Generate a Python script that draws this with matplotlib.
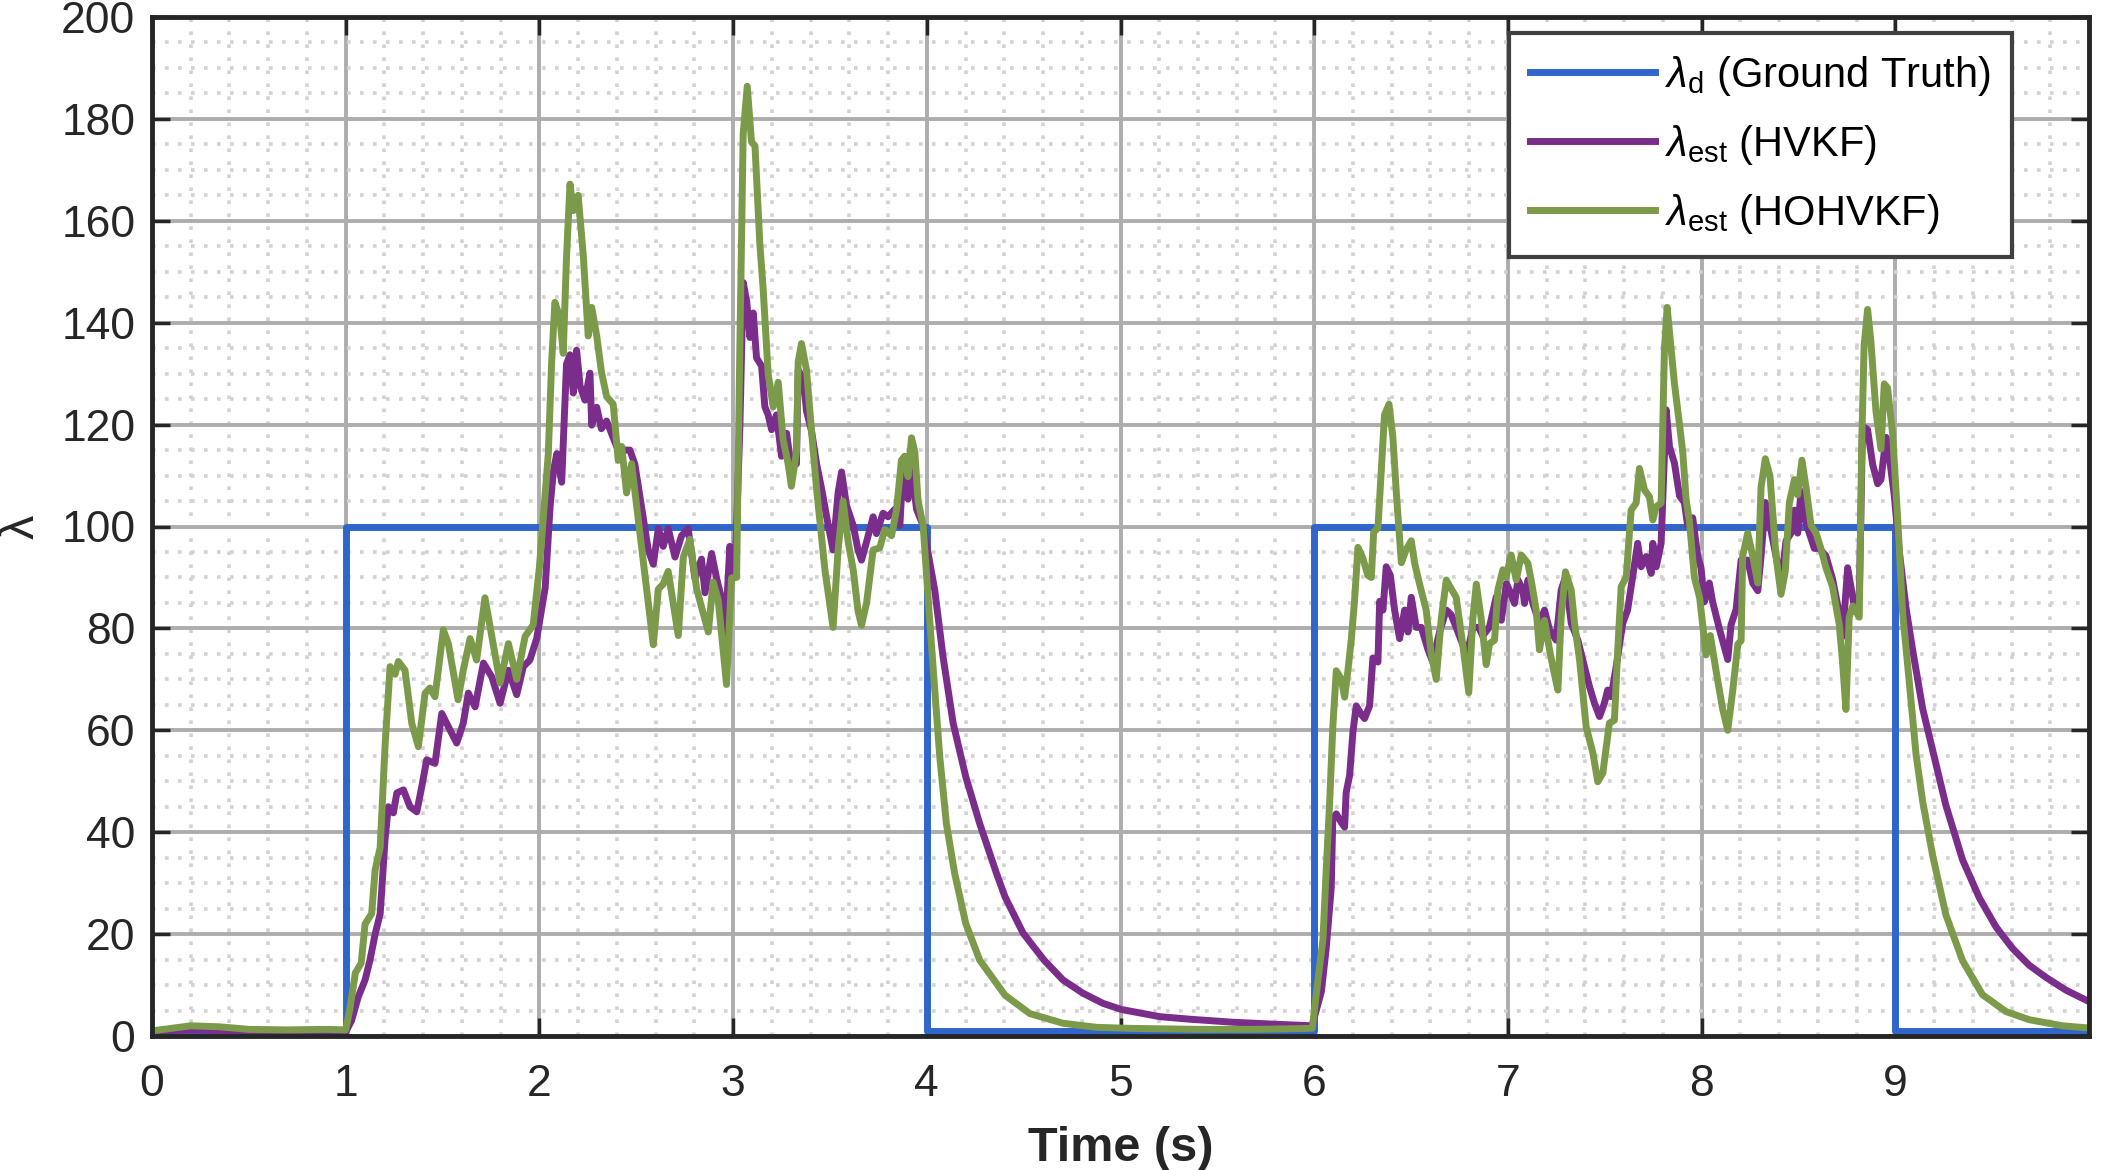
import matplotlib
matplotlib.use('Agg')
import matplotlib.pyplot as plt
from matplotlib.ticker import MultipleLocator

plt.rcParams['font.family'] = ['Liberation Sans', 'DejaVu Sans']
plt.rcParams['mathtext.fontset'] = 'custom'
plt.rcParams['mathtext.rm'] = 'Liberation Sans'
plt.rcParams['mathtext.it'] = 'Liberation Sans:italic'

# ground truth (step)
t_gt = [0, 1, 4, 6, 9, 10]
lam_gt = [1, 100, 1, 100, 1, 1]

# HVKF estimate
t_hvkf = [0.0, 0.2, 0.5, 0.8, 1.0, 1.03, 1.065, 1.1, 1.126, 1.152, 1.178, 1.203, 1.22, 1.246, 1.264,
          1.298, 1.332, 1.367, 1.393, 1.418, 1.461, 1.496, 1.53, 1.573, 1.607, 1.633, 1.668, 1.711,
          1.754, 1.797, 1.84, 1.883, 1.917, 1.951, 1.986, 2.03, 2.055, 2.072, 2.09, 2.115, 2.14, 2.158,
          2.175, 2.192, 2.21, 2.235, 2.261, 2.27, 2.296, 2.32, 2.347, 2.399, 2.433, 2.467, 2.493, 2.536,
          2.562, 2.588, 2.614, 2.639, 2.665, 2.7, 2.734, 2.768, 2.803, 2.837, 2.855, 2.889, 2.915, 2.941,
          2.958, 2.983, 3.01, 3.035, 3.052, 3.07, 3.087, 3.104, 3.121, 3.147, 3.164, 3.181, 3.199, 3.224,
          3.25, 3.276, 3.301, 3.327, 3.336, 3.362, 3.379, 3.405, 3.431, 3.457, 3.483, 3.516, 3.542, 3.56,
          3.585, 3.62, 3.645, 3.663, 3.689, 3.723, 3.74, 3.774, 3.8, 3.835, 3.861, 3.878, 3.903, 3.921,
          3.947, 3.981, 4.041, 4.084, 4.136, 4.201, 4.273, 4.36, 4.404, 4.497, 4.605, 4.703, 4.806,
          4.91, 5.005, 5.202, 5.357, 5.58, 5.804, 5.99, 6.0, 6.037, 6.062, 6.088, 6.096, 6.114, 6.14,
          6.157, 6.165, 6.183, 6.2, 6.217, 6.243, 6.26, 6.286, 6.303, 6.329, 6.338, 6.355, 6.372, 6.393,
          6.415, 6.441, 6.467, 6.484, 6.501, 6.527, 6.553, 6.587, 6.612, 6.647, 6.682, 6.707, 6.733,
          6.767, 6.79, 6.819, 6.85, 6.87, 6.905, 6.94, 6.966, 6.992, 7.008, 7.034, 7.052, 7.077, 7.086,
          7.103, 7.129, 7.163, 7.189, 7.215, 7.249, 7.275, 7.297, 7.327, 7.361, 7.395, 7.421, 7.447,
          7.473, 7.498, 7.515, 7.533, 7.559, 7.593, 7.618, 7.644, 7.67, 7.688, 7.714, 7.74, 7.748, 7.766,
          7.791, 7.817, 7.834, 7.86, 7.886, 7.911, 7.928, 7.954, 7.98, 7.997, 8.014, 8.04, 8.057, 8.092,
          8.135, 8.152, 8.178, 8.204, 8.238, 8.264, 8.29, 8.307, 8.329, 8.353, 8.384, 8.41, 8.436, 8.462,
          8.479, 8.496, 8.513, 8.53, 8.556, 8.582, 8.608, 8.642, 8.676, 8.711, 8.728, 8.754, 8.771,
          8.788, 8.814, 8.831, 8.857, 8.883, 8.909, 8.926, 8.952, 8.969, 8.995, 9.021, 9.055, 9.089,
          9.141, 9.193, 9.261, 9.347, 9.434, 9.52, 9.605, 9.691, 9.778, 9.881, 9.992]
lam_hvkf = [1.0, 1.2, 1.0, 0.9, 0.8, 3, 7.7, 11, 15, 20, 24, 38.5, 45, 43.8, 47.7,
            48.3, 45, 44, 49, 54.2, 53.5, 63.3, 60.7, 57.5, 61.4, 67.3, 64.6, 73.2,
            70.5, 65.3, 71.8, 67, 72.5, 73.8, 78, 88, 103.8, 110.8, 114.3, 108.7, 131.9, 133.7,
            126.2, 134.6, 127.6, 124.8, 130.1, 119.9, 123.4, 119.2, 120.7, 115.7, 115, 115, 112.2, 101.7,
            95.4, 92.6, 99.6, 96.1, 99.6, 94, 98.2, 99.6, 89.8, 93.6, 87, 94.7, 89.8, 85.8,
            77.9, 96.1, 91, 119.5, 147.9, 144.3, 137.1, 141.9, 133.1, 131.5, 123.5, 121.9, 119, 121.9,
            113.8, 118.3, 111.5, 112.3, 130.7, 129.1, 122.7, 118.7, 112.3, 107.4, 101.9, 95.4, 106.6, 110.7,
            104.2, 100.2, 95.4, 93.4, 97, 101.9, 98.6, 102.6, 101.9, 103.4, 100.2, 112.3, 105.4, 111.5,
            103.4, 100.2, 87.5, 74.4, 61.4, 50.9, 41.7, 31.9, 27.3, 20.2, 14.9, 11, 8.4,
            6.4, 5.2, 3.8, 3.3, 2.7, 2.3, 2.0, 3.6, 8.7, 17.2, 29.1, 42.7, 43.6, 41.9,
            41, 47.8, 51.2, 59.7, 64.8, 63.1, 62.3, 64.8, 74.2, 73.4, 85.3, 83.6, 92.1, 90.4,
            83.6, 78, 83.6, 79.3, 86.1, 80.2, 80.2, 75.9, 73.4, 79.3, 83.6, 82.7, 80.2,
            76.8, 75, 80.2, 80.2, 78.5, 80.3, 86.2, 81.6, 88.8, 87.5, 84.9, 89.5, 87.5, 84.9,
            89.5, 84.9, 81, 83.6, 79.7, 77.7, 87.5, 90.1, 81, 77.7, 72.5, 68.6, 65.3,
            62.7, 65.3, 67.9, 66.6, 72.5, 81, 83.6, 90.1, 96.7, 92.1, 94.1, 90.8, 96.7, 92.1,
            96.7, 122.9, 115.7, 112.4, 106, 104.7, 100.2, 101.7, 94.2, 91.9, 85.2, 88.9, 85.2, 79.9,
            73.9, 80.7, 83.7, 93.4, 93.4, 88.9, 87.4, 94.2, 104.7, 100.2, 94.2, 88.9, 97.2, 98.7,
            103.2, 98.7, 106.9, 101.7, 98.7, 95.7, 95.7, 94.2, 89.7, 82.9, 78.4, 91.9, 88.2,
            84.4, 85.9, 119.7, 119, 112.2, 108.4, 109.2, 117.5, 113.7, 106, 95, 84.1, 75.9,
            64.3, 56.1, 45.3, 34.6, 27.1, 21.4, 17.2, 13.9, 11.5, 9, 6.9]

# HOHVKF estimate
t_hohvkf = [0.0, 0.1, 0.2, 0.35, 0.5, 0.7, 0.9, 1.0, 1.02, 1.05, 1.08, 1.1, 1.134, 1.152, 1.178,
            1.203, 1.229, 1.255, 1.272, 1.306, 1.341, 1.375, 1.41, 1.435, 1.461, 1.504, 1.53, 1.58,
            1.607, 1.642, 1.676, 1.719, 1.797, 1.84, 1.883, 1.926, 1.968, 2.0, 2.029, 2.046, 2.063,
            2.08, 2.106, 2.123, 2.14, 2.158, 2.175, 2.2, 2.227, 2.252, 2.27, 2.296, 2.32, 2.347, 2.381,
            2.407, 2.425, 2.45, 2.476, 2.536, 2.588, 2.614, 2.639, 2.665, 2.717, 2.743, 2.777, 2.812,
            2.872, 2.897, 2.923, 2.966, 2.992, 3.018, 3.035, 3.052, 3.073, 3.095, 3.113, 3.138, 3.155,
            3.181, 3.207, 3.233, 3.258, 3.284, 3.301, 3.327, 3.336, 3.353, 3.379, 3.405, 3.431, 3.474,
            3.516, 3.542, 3.568, 3.594, 3.62, 3.645, 3.663, 3.689, 3.723, 3.757, 3.783, 3.818, 3.844,
            3.869, 3.886, 3.903, 3.921, 3.938, 3.955, 3.981, 4.016, 4.041, 4.067, 4.101, 4.144, 4.201,
            4.273, 4.404, 4.532, 4.703, 4.876, 5.05, 5.4, 5.7, 5.99, 6.02, 6.045, 6.062, 6.08, 6.096,
            6.114, 6.14, 6.157, 6.174, 6.191, 6.208, 6.226, 6.251, 6.277, 6.295, 6.307, 6.329, 6.346,
            6.363, 6.386, 6.406, 6.424, 6.45, 6.475, 6.501, 6.518, 6.544, 6.578, 6.604, 6.63, 6.656,
            6.682, 6.707, 6.733, 6.767, 6.798, 6.819, 6.837, 6.862, 6.888, 6.905, 6.931, 6.948, 6.974,
            6.99, 7.017, 7.043, 7.069, 7.103, 7.12, 7.146, 7.163, 7.189, 7.215, 7.232, 7.258, 7.275,
            7.297, 7.327, 7.344, 7.37, 7.404, 7.439, 7.464, 7.49, 7.524, 7.55, 7.567, 7.585, 7.611,
            7.636, 7.662, 7.679, 7.705, 7.731, 7.748, 7.766, 7.791, 7.808, 7.822, 7.84, 7.86, 7.886,
            7.903, 7.92, 7.937, 7.963, 7.99, 8.023, 8.045, 8.075, 8.109, 8.135, 8.161, 8.187, 8.204,
            8.212, 8.238, 8.264, 8.29, 8.307, 8.329, 8.353, 8.384, 8.41, 8.432, 8.453, 8.479, 8.496,
            8.518, 8.539, 8.565, 8.591, 8.616, 8.642, 8.676, 8.711, 8.728, 8.745, 8.762, 8.78, 8.814,
            8.827, 8.839, 8.857, 8.874, 8.9, 8.926, 8.943, 8.96, 8.986, 9.012, 9.038, 9.072, 9.107,
            9.141, 9.193, 9.261, 9.347, 9.45, 9.571, 9.691, 9.863, 9.99]
lam_hohvkf = [1.0, 1.5, 2.0, 1.8, 1.3, 1.2, 1.3, 1.2, 5, 12.4, 14.3, 22, 24, 32.6, 37,
              56.8, 72.5, 71, 73.5, 71.8, 61.4, 56.8, 67.3, 68.3, 66.6, 79.7, 77, 66,
              71.8, 78, 73.8, 86, 69.3, 77, 70, 78.4, 80.7, 92, 106, 114.3, 132,
              144, 141, 134, 152.9, 167.2, 162, 165, 153, 137.4, 143, 137.4, 130.4, 125.5, 124,
              113, 115.7, 106.6, 112.3, 93.3, 76.8, 87.7, 88.7, 91.2, 78.6, 94, 97.5, 87.7,
              79.3, 89.1, 85.6, 69, 89.9, 90, 135.5, 177, 186.4, 175.5, 174.7, 155.5, 146.7,
              129.9, 123.5, 128.3, 117.1, 112.3, 107.9, 114.7, 132.3, 135.9, 130.7, 118.7, 107.4, 91.5,
              80.2, 95.4, 105, 97, 91.5, 83.4, 80.6, 85, 95.4, 95.8, 99.4, 98.2, 103.4,
              113, 113.8, 109.8, 117.4, 114.7, 105, 100.2, 81, 67.9, 54.8, 41.7, 31.9, 22.1,
              14.9, 8, 4.4, 2.5, 1.7, 1.5, 1.3, 1.3, 1.5, 11.2, 18.9, 32.5, 46.1, 60.6,
              71.7, 70, 66.5, 71.7, 77.6, 85.3, 95.9, 93.8, 90.4, 90, 98.9, 99.7, 110.8,
              121.9, 124, 117.6, 106.6, 92.9, 95.5, 97.2, 92.9, 88.7, 83.6, 75, 70, 81.9,
              89.5, 87.8, 86.1, 76.8, 67.4, 81.9, 88.7, 81.9, 72.9, 77, 77.7, 87.5, 91.5,
              90, 94.4, 89.5, 94.4, 92.8, 89.5, 83.6, 75.8, 81.6, 75.8, 72.5, 67.9, 82.3,
              91.1, 87.5, 81, 73.8, 60.7, 55.5, 49.9, 51.6, 61.4, 62, 75.8, 88.2, 90.1,
              103.2, 104.6, 111.4, 107.2, 105.8, 101.3, 103.9, 104.6, 134.6, 143, 136, 128, 120,
              114.5, 105.3, 101, 90, 86, 74.8, 78.6, 71.6, 64.1, 60, 67.9, 76.9, 77.6,
              94.2, 98.7, 94.2, 88.9, 107.7, 113.3, 109.9, 94.2, 86.7, 91.2, 104.7, 109.2, 106.2,
              113, 107.7, 100.2, 98.7, 95.7, 91.9, 88.2, 80.7, 73.2, 64.1, 82.2, 84.4, 82.2,
              116.7, 135.5, 142.6, 136.3, 122.7, 115.2, 128, 127.2, 118.2, 101.7, 83, 69.5, 55.3,
              46.1, 35.4, 23.8, 14.8, 8.1, 4.8, 3.2, 2, 1.6]

fig = plt.figure(figsize=(21.07, 11.70), dpi=100)
ax = fig.add_axes([152 / 2107, 1 - 1036 / 1170, 1937 / 2107, 1019 / 1170])

ax.step(t_gt, lam_gt, where='post', color='#3066CC', lw=5,
        label=r'$\lambda_{\mathrm{d}}$ (Ground Truth)')
ax.plot(t_hvkf, lam_hvkf, color='#7B2D8B', lw=5, label=r'$\lambda_{\mathrm{est}}$ (HVKF)')
ax.plot(t_hohvkf, lam_hohvkf, color='#7B9A4A', lw=5, label=r'$\lambda_{\mathrm{est}}$ (HOHVKF)')

ax.set_xlim(0, 10)
ax.set_ylim(0, 200)
ax.set_xticks(range(10))
ax.set_yticks(range(0, 201, 20))
ax.xaxis.set_minor_locator(MultipleLocator(0.2))
ax.yaxis.set_minor_locator(MultipleLocator(5))

ax.set_axisbelow(True)
ax.grid(which='major', color='#adadad', lw=2.8, ls='-')
ax.grid(which='minor', color='#d2d2d2', lw=2.6, ls=(0, (1, 2.6)))

for s in ax.spines.values():
    s.set_linewidth(3.5)
    s.set_color('#262626')
ax.tick_params(which='major', direction='in', length=13, width=2.5, top=True, right=True,
               labelsize=32, color='#262626', labelcolor='#262626')
ax.tick_params(axis='x', pad=20)
ax.tick_params(axis='y', pad=12)
ax.tick_params(which='minor', length=0)

ax.set_xlabel('Time (s)', fontsize=35, fontweight='bold', color='#262626')
ax.xaxis.set_label_coords(0.5, -0.088)
ax.set_ylabel('λ', fontsize=35, color='#262626')
ax.yaxis.set_label_coords(-0.056, 0.5)

leg = ax.legend(loc='upper right', bbox_to_anchor=(0.9602, 0.9843), borderaxespad=0,
                fontsize=30, fancybox=False, framealpha=1, edgecolor='#404040',
                handlelength=3.0, handletextpad=0.25, labelspacing=0.6, borderpad=0.5)
leg.get_frame().set_linewidth(3)

fig.savefig('out.png', dpi=100)
